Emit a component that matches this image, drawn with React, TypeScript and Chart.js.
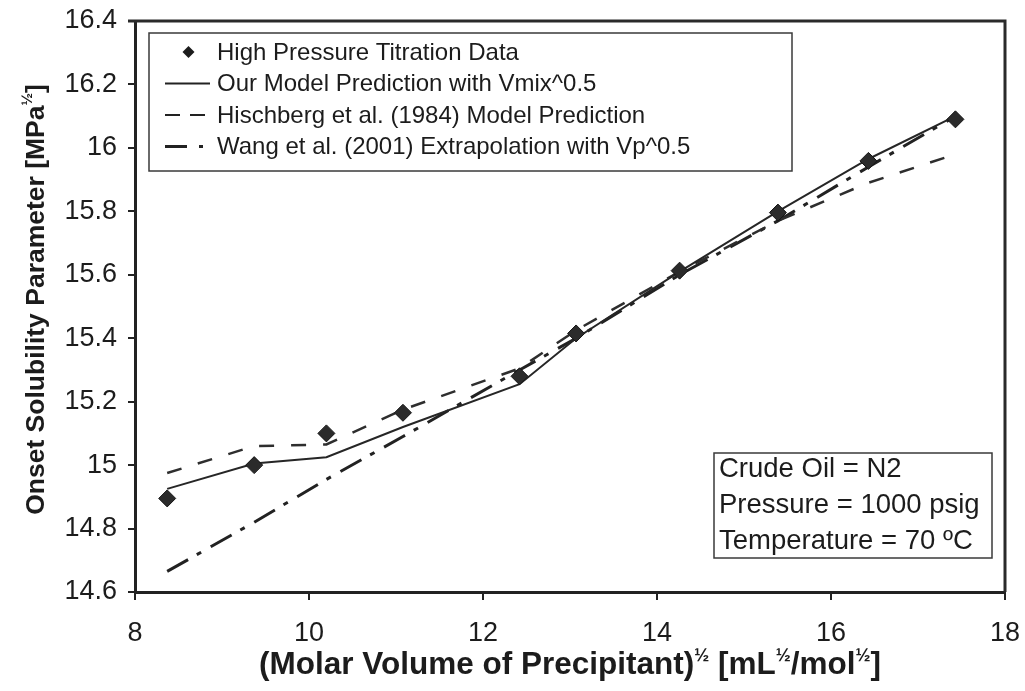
import React, { useEffect, useRef } from "react";
import { Chart, registerables } from "chart.js";

Chart.register(...registerables);

// Square root of precipitant molar volume, mL^½/mol^½
const precipitantX = [8.37, 9.37, 10.2, 11.08, 12.42, 13.07, 14.26, 15.39, 16.43, 17.43];
// Measured onset solubility parameter, MPa^½
const titrationData = [14.895, 15.0, 15.1, 15.165, 15.28, 15.415, 15.613, 15.796, 15.959, 16.09];
// Model curves evaluated at the same abscissae
const ourModel = [14.925, 15.005, 15.025, 15.12, 15.255, 15.4, 15.61, 15.8, 15.965, 16.1];
const hirschbergModel = [14.975, 15.06, 15.065, 15.175, 15.305, 15.425, 15.61, 15.77, 15.89, 15.98];
const wangExtrapolation = [14.665, 14.82, 14.955, 15.09, 15.3, 15.4, 15.6, 15.77, 15.94, 16.1];

const seriesLabels = [
  "High Pressure Titration Data",
  "Our Model Prediction with Vmix^0.5",
  "Hischberg et al. (1984) Model Prediction",
  "Wang et al. (2001) Extrapolation with Vp^0.5",
];
const conditionLines = ["Crude Oil = N2", "Pressure = 1000 psig", "Temperature = 70 ºC"];

const xRange = { min: 8, max: 18, step: 2 };
const yRange = { min: 14.6, max: 16.4, step: 0.2 };

const FONT = "'Liberation Sans', Arial, Helvetica, sans-serif";
const INK = "#1c1c1c";

const DASH_HISCHBERG = [15, 17];
const DASH_WANG = [24, 10, 5, 11];

type Seg = { text: string; sup?: boolean };

function drawRich(
  ctx: CanvasRenderingContext2D,
  segs: Seg[],
  cx: number,
  cy: number,
  size: number,
  bold: boolean
) {
  const weight = bold ? "bold " : "";
  const mainFont = `${weight}${size}px ${FONT}`;
  const supSize = Math.round(size * 0.58);
  const supFont = `${weight}${supSize}px ${FONT}`;
  let total = 0;
  const widths = segs.map((s) => {
    ctx.font = s.sup ? supFont : mainFont;
    const w = ctx.measureText(s.text).width;
    total += w;
    return w;
  });
  let x = cx - total / 2;
  ctx.textAlign = "left";
  ctx.textBaseline = "alphabetic";
  const base = cy + size * 0.36;
  segs.forEach((s, i) => {
    ctx.font = s.sup ? supFont : mainFont;
    ctx.fillText(s.text, x, s.sup ? base - size * 0.42 : base);
    x += widths[i];
  });
}

function diamond(ctx: CanvasRenderingContext2D, x: number, y: number, r: number) {
  ctx.beginPath();
  ctx.moveTo(x, y - r);
  ctx.lineTo(x + r, y);
  ctx.lineTo(x, y + r);
  ctx.lineTo(x - r, y);
  ctx.closePath();
  ctx.fill();
}

// keep the plot rectangle fixed: tick labels may overhang the margins
function fixScaleSize(prop: "width" | "height", size: number) {
  return (scale: any) => {
    scale[prop] = size;
    scale.paddingLeft = 0;
    scale.paddingRight = 0;
    scale.paddingTop = 0;
    scale.paddingBottom = 0;
  };
}

const decorations = {
  id: "decorations",
  afterDraw(chart: any) {
    const { ctx, chartArea } = chart;
    const { left, right, top, bottom } = chartArea;
    ctx.save();

    // closing frame on the top and right
    ctx.strokeStyle = "#2a2a2a";
    ctx.lineWidth = 3;
    ctx.beginPath();
    ctx.moveTo(left - 7, top);
    ctx.lineTo(right, top);
    ctx.lineTo(right, bottom);
    ctx.stroke();

    // legend
    const lx = left + 14;
    const ly = top + 12;
    const lw = 643;
    const lh = 138;
    ctx.fillStyle = "#ffffff";
    ctx.fillRect(lx, ly, lw, lh);
    ctx.strokeStyle = "#3a3a3a";
    ctx.lineWidth = 1.5;
    ctx.strokeRect(lx, ly, lw, lh);

    const rowH = 31.5;
    const sx0 = lx + 16;
    const sx1 = lx + 61;
    ctx.font = `24px ${FONT}`;
    ctx.textBaseline = "middle";
    ctx.textAlign = "left";
    seriesLabels.forEach((label, i) => {
      const ry = ly + 19 + i * rowH;
      ctx.fillStyle = INK;
      ctx.strokeStyle = "#222";
      if (i === 0) {
        diamond(ctx, (sx0 + sx1) / 2 + 1, ry, 6);
      } else {
        ctx.setLineDash(i === 2 ? [15, 10] : i === 3 ? [22, 12, 4, 12] : []);
        ctx.lineWidth = i === 3 ? 3 : 2;
        ctx.beginPath();
        ctx.moveTo(sx0, ry);
        ctx.lineTo(sx1, ry);
        ctx.stroke();
        ctx.setLineDash([]);
      }
      ctx.fillStyle = INK;
      ctx.fillText(label, lx + 68, ry + 1);
    });

    // operating conditions
    const bw = 278;
    const bh = 105;
    const bx = right - 13 - bw;
    const by = bottom - 34 - bh;
    ctx.fillStyle = "#ffffff";
    ctx.fillRect(bx, by, bw, bh);
    ctx.strokeStyle = "#3a3a3a";
    ctx.lineWidth = 1.5;
    ctx.strokeRect(bx, by, bw, bh);
    ctx.fillStyle = INK;
    ctx.font = `27.5px ${FONT}`;
    conditionLines.forEach((t, i) => {
      ctx.fillText(t, bx + 5, by + 16 + i * 36);
    });

    // axis titles
    ctx.fillStyle = INK;
    drawRich(
      ctx,
      [
        { text: "(Molar Volume of Precipitant)" },
        { text: "½", sup: true },
        { text: " [mL" },
        { text: "½", sup: true },
        { text: "/mol" },
        { text: "½", sup: true },
        { text: "]" },
      ],
      (left + right) / 2,
      663,
      31.5,
      true
    );
    ctx.save();
    ctx.translate(34, (top + bottom) / 2 - 7);
    ctx.rotate(-Math.PI / 2);
    drawRich(
      ctx,
      [
        { text: "Onset Solubility Parameter [MPa" },
        { text: "½", sup: true },
        { text: "]" },
      ],
      0,
      0,
      26.5,
      true
    );
    ctx.restore();

    ctx.restore();
  },
};

export default function App() {
  const canvasRef = useRef<HTMLCanvasElement | null>(null);

  useEffect(() => {
    const canvas = canvasRef.current;
    if (!canvas) return;
    const pts = (ys: number[]) => precipitantX.map((x, i) => ({ x, y: ys[i] }));

    const chart = new Chart(canvas, {
      type: "scatter",
      data: {
        datasets: [
          {
            label: seriesLabels[0],
            data: pts(titrationData),
            showLine: false,
            pointStyle: "rectRot",
            pointRadius: 8.5,
            backgroundColor: "#2b2b2b",
            borderColor: "#151515",
            borderWidth: 1,
            order: 0,
          },
          {
            label: seriesLabels[1],
            data: pts(ourModel),
            showLine: true,
            borderColor: "#262626",
            borderWidth: 2,
            pointRadius: 0,
            tension: 0,
            order: 1,
          },
          {
            label: seriesLabels[2],
            data: pts(hirschbergModel),
            showLine: true,
            borderColor: "#2e2e2e",
            borderWidth: 2.5,
            borderDash: DASH_HISCHBERG,
            pointRadius: 0,
            tension: 0,
            order: 2,
          },
          {
            label: seriesLabels[3],
            data: pts(wangExtrapolation),
            showLine: true,
            borderColor: "#222222",
            borderWidth: 3,
            borderDash: DASH_WANG,
            pointRadius: 0,
            tension: 0,
            order: 3,
          },
        ],
      },
      options: {
        responsive: false,
        animation: false,
        layout: { autoPadding: false, padding: { top: 21, right: 20, left: 0, bottom: 0 } },
        plugins: {
          legend: { display: false },
          tooltip: { enabled: false },
        },
        scales: {
          x: {
            type: "linear",
            min: xRange.min,
            max: xRange.max,
            afterFit: fixScaleSize("height", 99),
            ticks: {
              stepSize: xRange.step,
              color: INK,
              font: { family: FONT, size: 27 },
              padding: 17,
            },
            grid: {
              drawOnChartArea: false,
              drawTicks: true,
              tickLength: 8,
              color: "#222",
              lineWidth: 2,
            },
            border: { display: true, width: 3, color: "#222" },
          },
          y: {
            type: "linear",
            min: yRange.min,
            max: yRange.max,
            afterFit: fixScaleSize("width", 135),
            ticks: {
              stepSize: yRange.step,
              color: INK,
              font: { family: FONT, size: 27 },
              padding: 11,
              callback: (v: any) => String(Math.round(Number(v) * 10) / 10),
            },
            grid: {
              drawOnChartArea: false,
              drawTicks: true,
              tickLength: 7,
              color: "#222",
              lineWidth: 2,
            },
            border: { display: true, width: 3, color: "#222" },
          },
        },
      },
      plugins: [decorations],
    });

    return () => chart.destroy();
  }, []);

  return (
    <div style={{ position: "absolute", left: 0, top: 0, width: 1025, height: 691, background: "#fff" }}>
      <canvas ref={canvasRef} width={1025} height={691} />
    </div>
  );
}
